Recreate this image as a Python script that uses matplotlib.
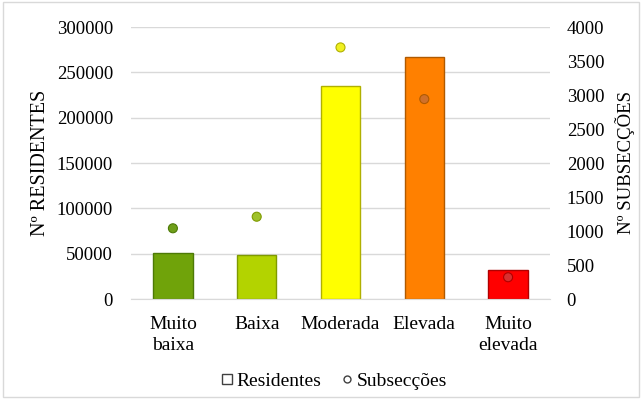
import matplotlib.pyplot as plt
from matplotlib.lines import Line2D
import numpy as np

plt.rcParams['font.family'] = ['Liberation Serif', 'DejaVu Serif']

categorias = ['Muito\nbaixa', 'Baixa', 'Moderada', 'Elevada', 'Muito\nelevada']
residentes = [51000, 48500, 235000, 267000, 32500]
subseccoes = [1040, 1210, 3700, 2940, 320]
cores = ['#70a30a', '#b3d300', '#ffff00', '#ff8000', '#ff0000']
bordas = ['#4d7a06', '#7f9a00', '#b0b000', '#b05a00', '#b00000']
cores_pontos = ['#6f9f1a', '#9fc22a', '#f0f020', '#d0702a', '#d83030']

fig = plt.figure(figsize=(6.42, 3.99), dpi=100)
fig.patches.append(plt.Rectangle((0.005, 0.005), 0.99, 0.99, transform=fig.transFigure,
                                 fill=False, edgecolor='#d9d9d9', linewidth=1))
ax = fig.add_axes([131 / 642, 1 - 299 / 399, 419 / 642, 272 / 399])
x = np.arange(len(categorias))
ax.bar(x, residentes, width=0.47, color=cores, edgecolor=bordas, linewidth=1, zorder=2)
ax.set_ylim(0, 300000)
ax.set_xlim(-0.5, 4.5)
ax.set_yticks(np.arange(0, 300001, 50000))
ax.yaxis.grid(True, color='#d9d9d9', linewidth=1, zorder=0)
ax.set_axisbelow(True)
for s in ['top', 'right', 'left']:
    ax.spines[s].set_visible(False)
ax.spines['bottom'].set_color('#d9d9d9')
ax.tick_params(axis='y', length=0, labelsize=13.5, pad=13)
ax.tick_params(axis='x', length=0, labelsize=14, pad=12)
ax.set_xticks(x)
ax.set_xticklabels(categorias, fontsize=14, linespacing=1.35)
ax.set_ylabel('Nº RESIDENTES', fontsize=14.5, labelpad=5)

ax2 = ax.twinx()
ax2.scatter(x, subseccoes, s=42, c=cores_pontos, edgecolors=bordas, linewidths=0.8, zorder=3)
ax2.set_ylim(0, 4000)
ax2.set_yticks(np.arange(0, 4001, 500))
for s in ['top', 'right', 'left', 'bottom']:
    ax2.spines[s].set_visible(False)
ax2.tick_params(length=0, labelsize=13.5, pad=12)
ax2.set_ylabel('Nº SUBSECÇÕES', fontsize=13.5, labelpad=8)

handles = [Line2D([], [], marker='s', linestyle='none', markerfacecolor='white',
                  markeredgecolor='#404040', markersize=7),
           Line2D([], [], marker='o', linestyle='none', markerfacecolor='white',
                  markeredgecolor='#404040', markersize=5)]
fig.legend(handles, ['Residentes', 'Subsecções'], loc='center', bbox_to_anchor=(0.52, 0.045),
           ncol=2, frameon=False, fontsize=14, handlelength=0.6, handletextpad=0.2,
           columnspacing=1.0)

fig.savefig('out.png', dpi=100)
